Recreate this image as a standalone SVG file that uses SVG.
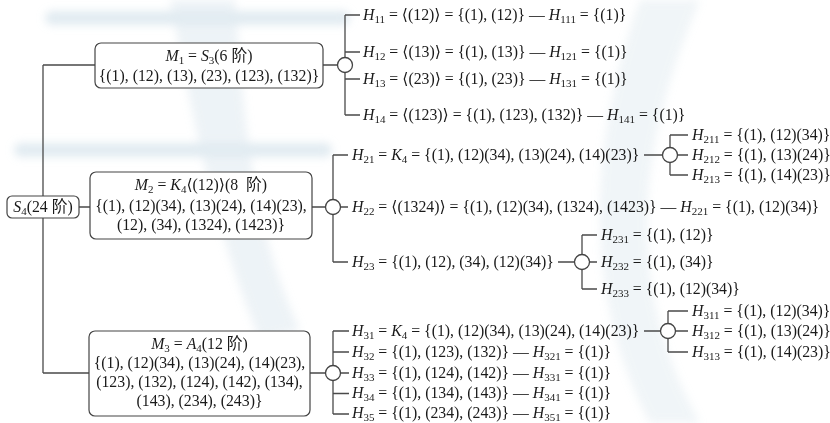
<svg xmlns="http://www.w3.org/2000/svg" width="830" height="423" viewBox="0 0 830 423">
<defs>
<style>
.t{font-family:"Liberation Serif","DejaVu Serif","Noto Sans CJK SC",serif;font-size:15.8px;fill:#1a1a1a}
.c{text-anchor:middle}
.i{font-style:italic}
.s{font-size:11px}
.box{fill:#fff;stroke:#444;stroke-width:1.2}
.ln{stroke:#4a4a4a;stroke-width:1.3;fill:none}
.cir{fill:#fff;stroke:#444;stroke-width:1.3}
.wm{fill:#c9dbe6}
</style>
<filter id="blur" x="-20%" y="-20%" width="140%" height="140%"><feGaussianBlur stdDeviation="4"/></filter>
</defs>
<rect width="830" height="423" fill="#fff"/>
<g id="watermark" filter="url(#blur)" opacity="0.55">
<rect class="wm" x="45" y="11" width="305" height="14" rx="7"/>
<rect class="wm" x="14" y="143" width="318" height="14" rx="7"/>
<path class="wm" d="M170 0 L235 0 C245 120 250 220 300 330 L260 340 C215 230 195 130 170 0 Z" opacity="0.6"/>
<path class="wm" d="M640 0 L700 0 C640 140 620 280 700 423 L650 423 C580 290 590 140 640 0 Z" opacity="0.5"/>
</g>
<g id="connectors">
<path class="ln" d="M43 65 V373 M43 65 H95 M43 373 H89 M79 207 H90"/>
<path class="ln" d="M323 65 H337 M345 15 V115 M345 15 H360 M345 52 H360 M345 79 H360 M345 115 H360"/>
<path class="ln" d="M312 207 H325.5 M333 155 V262 M333 155 H348 M340.5 207 H348 M333 262 H348"/>
<path class="ln" d="M644 155 H662.5 M670 135 V175 M670 135 H688 M677.5 155 H688 M670 175 H688"/>
<path class="ln" d="M558 262 H574.5 M582 235 V289 M582 235 H597 M589.5 262 H597 M582 289 H597"/>
<path class="ln" d="M310 373 H325.5 M333 331 V414 M333 331 H349 M333 352 H349 M340.5 373 H349 M333 393.5 H349 M333 414 H349"/>
<path class="ln" d="M644 331 H660.5 M668 311 V352 M668 311 H688 M675.5 331 H688 M668 352 H688"/>
<circle class="cir" cx="345" cy="65" r="7.5"/>
<circle class="cir" cx="333" cy="207" r="7.5"/>
<circle class="cir" cx="670" cy="155" r="7.5"/>
<circle class="cir" cx="582" cy="262" r="7.5"/>
<circle class="cir" cx="333" cy="373" r="7.5"/>
<circle class="cir" cx="668" cy="331" r="7.5"/>
</g>
<g id="S4">
<rect class="box" x="7" y="196" width="72" height="22" rx="5"/>
<text class="t c" x="43" y="212"><tspan class="i">S</tspan><tspan class="s" dy="3">4</tspan><tspan dy="-3">(24 阶)</tspan></text>
</g>
<g id="M1">
<rect class="box" x="95" y="43" width="228" height="45" rx="6"/>
<text class="t c" x="209" y="61"><tspan class="i">M</tspan><tspan class="s" dy="3">1</tspan><tspan dy="-3"> = </tspan><tspan class="i">S</tspan><tspan class="s" dy="3">3</tspan><tspan dy="-3">(6 阶)</tspan></text>
<text class="t c" x="209" y="81">{(1), (12), (13), (23), (123), (132)}</text>
</g>
<g id="M2">
<rect class="box" x="90" y="172" width="222" height="67" rx="6"/>
<text class="t c" x="201" y="190" xml:space="preserve"><tspan class="i">M</tspan><tspan class="s" dy="3">2</tspan><tspan dy="-3"> = </tspan><tspan class="i">K</tspan><tspan class="s" dy="3">4</tspan><tspan dy="-3">⟨(12)⟩(8  阶)</tspan></text>
<text class="t c" x="201" y="211">{(1), (12)(34), (13)(24), (14)(23),</text>
<text class="t c" x="201" y="230">(12), (34), (1324), (1423)}</text>
</g>
<g id="M3">
<rect class="box" x="89" y="331" width="221" height="85" rx="6"/>
<text class="t c" x="199.5" y="349"><tspan class="i">M</tspan><tspan class="s" dy="3">3</tspan><tspan dy="-3"> = </tspan><tspan class="i">A</tspan><tspan class="s" dy="3">4</tspan><tspan dy="-3">(12 阶)</tspan></text>
<text class="t c" x="199.5" y="368">{(1), (12)(34), (13)(24), (14)(23),</text>
<text class="t c" x="199.5" y="387">(123), (132), (124), (142), (134),</text>
<text class="t c" x="199.5" y="406">(143), (234), (243)}</text>
</g>
<g id="H1x">
<text class="t" x="363" y="20"><tspan class="i">H</tspan><tspan class="s" dy="3">11</tspan><tspan dy="-3"> = ⟨(12)⟩ = {(1), (12)} — </tspan><tspan class="i">H</tspan><tspan class="s" dy="3">111</tspan><tspan dy="-3"> = {(1)}</tspan></text>
<text class="t" x="363" y="57"><tspan class="i">H</tspan><tspan class="s" dy="3">12</tspan><tspan dy="-3"> = ⟨(13)⟩ = {(1), (13)} — </tspan><tspan class="i">H</tspan><tspan class="s" dy="3">121</tspan><tspan dy="-3"> = {(1)}</tspan></text>
<text class="t" x="363" y="84"><tspan class="i">H</tspan><tspan class="s" dy="3">13</tspan><tspan dy="-3"> = ⟨(23)⟩ = {(1), (23)} — </tspan><tspan class="i">H</tspan><tspan class="s" dy="3">131</tspan><tspan dy="-3"> = {(1)}</tspan></text>
<text class="t" x="363" y="120"><tspan class="i">H</tspan><tspan class="s" dy="3">14</tspan><tspan dy="-3"> = ⟨(123)⟩ = {(1), (123), (132)} — </tspan><tspan class="i">H</tspan><tspan class="s" dy="3">141</tspan><tspan dy="-3"> = {(1)}</tspan></text>
</g>
<g id="H2x">
<text class="t" x="352" y="160"><tspan class="i">H</tspan><tspan class="s" dy="3">21</tspan><tspan dy="-3"> = </tspan><tspan class="i">K</tspan><tspan class="s" dy="3">4</tspan><tspan dy="-3"> = {(1), (12)(34), (13)(24), (14)(23)}</tspan></text>
<text class="t" x="692" y="140"><tspan class="i">H</tspan><tspan class="s" dy="3">211</tspan><tspan dy="-3"> = {(1), (12)(34)}</tspan></text>
<text class="t" x="692" y="160"><tspan class="i">H</tspan><tspan class="s" dy="3">212</tspan><tspan dy="-3"> = {(1), (13)(24)}</tspan></text>
<text class="t" x="692" y="180"><tspan class="i">H</tspan><tspan class="s" dy="3">213</tspan><tspan dy="-3"> = {(1), (14)(23)}</tspan></text>
<text class="t" x="352" y="212"><tspan class="i">H</tspan><tspan class="s" dy="3">22</tspan><tspan dy="-3"> = ⟨(1324)⟩ = {(1), (12)(34), (1324), (1423)} — </tspan><tspan class="i">H</tspan><tspan class="s" dy="3">221</tspan><tspan dy="-3"> = {(1), (12)(34)}</tspan></text>
<text class="t" x="352" y="267"><tspan class="i">H</tspan><tspan class="s" dy="3">23</tspan><tspan dy="-3"> = {(1), (12), (34), (12)(34)}</tspan></text>
<text class="t" x="601" y="240"><tspan class="i">H</tspan><tspan class="s" dy="3">231</tspan><tspan dy="-3"> = {(1), (12)}</tspan></text>
<text class="t" x="601" y="267"><tspan class="i">H</tspan><tspan class="s" dy="3">232</tspan><tspan dy="-3"> = {(1), (34)}</tspan></text>
<text class="t" x="601" y="294"><tspan class="i">H</tspan><tspan class="s" dy="3">233</tspan><tspan dy="-3"> = {(1), (12)(34)}</tspan></text>
</g>
<g id="H3x">
<text class="t" x="352" y="336"><tspan class="i">H</tspan><tspan class="s" dy="3">31</tspan><tspan dy="-3"> = </tspan><tspan class="i">K</tspan><tspan class="s" dy="3">4</tspan><tspan dy="-3"> = {(1), (12)(34), (13)(24), (14)(23)}</tspan></text>
<text class="t" x="692" y="316"><tspan class="i">H</tspan><tspan class="s" dy="3">311</tspan><tspan dy="-3"> = {(1), (12)(34)}</tspan></text>
<text class="t" x="692" y="336"><tspan class="i">H</tspan><tspan class="s" dy="3">312</tspan><tspan dy="-3"> = {(1), (13)(24)}</tspan></text>
<text class="t" x="692" y="357"><tspan class="i">H</tspan><tspan class="s" dy="3">313</tspan><tspan dy="-3"> = {(1), (14)(23)}</tspan></text>
<text class="t" x="352" y="357"><tspan class="i">H</tspan><tspan class="s" dy="3">32</tspan><tspan dy="-3"> = {(1), (123), (132)} — </tspan><tspan class="i">H</tspan><tspan class="s" dy="3">321</tspan><tspan dy="-3"> = {(1)}</tspan></text>
<text class="t" x="352" y="377.5"><tspan class="i">H</tspan><tspan class="s" dy="3">33</tspan><tspan dy="-3"> = {(1), (124), (142)} — </tspan><tspan class="i">H</tspan><tspan class="s" dy="3">331</tspan><tspan dy="-3"> = {(1)}</tspan></text>
<text class="t" x="352" y="398"><tspan class="i">H</tspan><tspan class="s" dy="3">34</tspan><tspan dy="-3"> = {(1), (134), (143)} — </tspan><tspan class="i">H</tspan><tspan class="s" dy="3">341</tspan><tspan dy="-3"> = {(1)}</tspan></text>
<text class="t" x="352" y="418"><tspan class="i">H</tspan><tspan class="s" dy="2.5">35</tspan><tspan dy="-2.5"> = {(1), (234), (243)} — </tspan><tspan class="i">H</tspan><tspan class="s" dy="2.5">351</tspan><tspan dy="-2.5"> = {(1)}</tspan></text>
</g>
</svg>
